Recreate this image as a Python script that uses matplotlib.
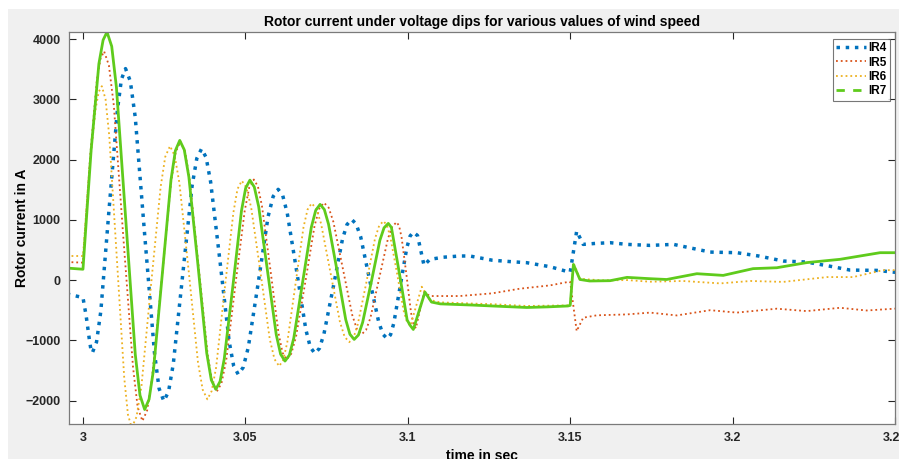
import matplotlib
matplotlib.use("Agg")
import matplotlib.pyplot as plt
from matplotlib.lines import Line2D
from matplotlib.patches import Rectangle

# Rotor current samples as (time in s, current in A) for each wind speed case
ir4 = [(2.995, -230), (3.0000, -290), (3.0010, -600), (3.0020, -1000), (3.0025, -1170), (3.0029, -1206),
       (3.00418, -1027), (3.0055, -515), (3.0080, 1153), (3.0106, 2821), (3.01183, 3333), (3.0131, 3512),
       (3.01458, 3302), (3.0161, 2703), (3.0190, 751), (3.0220, -1201), (3.02343, -1800), (3.0249, -2010),
       (3.02635, -1851), (3.0278, -1396), (3.0307, 85), (3.0336, 1566), (3.03505, 2021), (3.0365, 2180),
       (3.03791, 2038), (3.0393, 1631), (3.0422, 307), (3.0450, -1017), (3.04639, -1424), (3.0478, -1566),
       (3.04934, -1449), (3.0509, -1117), (3.0540, -30), (3.0570, 1057), (3.05856, 1390), (3.0601, 1507),
       (3.06151, 1403), (3.0629, 1109), (3.0658, 145), (3.0686, -819), (3.06999, -1114), (3.0714, -1218),
       (3.07281, -1133), (3.0742, -892), (3.0771, -105), (3.0799, 682), (3.08129, 923), (3.0827, 1008),
       (3.08408, 933), (3.0855, 718), (3.0882, 17), (3.0910, -684), (3.09232, -899), (3.0937, -974),
       (3.0947, -907), (3.0957, -715), (3.0977, -89), (3.0997, 537), (3.1007, 730), (3.1017, 797),
       (3.1030, 740), (3.1050, 244), (3.1068, 344), (3.1110, 380), (3.1160, 400), (3.1191, 400),
       (3.1260, 330), (3.1320, 305), (3.1366, 289), (3.1438, 222), (3.1497, 133), (3.1500, 130),
       (3.1520, 814), (3.1540, 593), (3.1580, 610), (3.1623, 621), (3.1675, 593), (3.1746, 576),
       (3.1818, 593), (3.1931, 465), (3.2013, 455), (3.2080, 400), (3.2157, 316), (3.2228, 299),
       (3.2300, 230), (3.2362, 166), (3.2444, 161), (3.2512, 123)]

ir5 = [(2.995, 300), (3.0000, 290), (3.0022, 2045), (3.0043, 3330), (3.00542, 3681), (3.0065, 3800),
       (3.00798, 3567), (3.0095, 2900), (3.0124, 730), (3.0154, -1440), (3.01683, -2107), (3.0183, -2340),
       (3.01976, -2164), (3.0212, -1660), (3.0242, -20), (3.0271, 1620), (3.02854, 2124), (3.0300, 2300),
       (3.0314, 2142), (3.0328, 1692), (3.0356, 225), (3.0384, -1242), (3.0398, -1692), (3.0412, -1850),
       (3.04263, -1716), (3.0441, -1334), (3.0469, -90), (3.0498, 1154), (3.05118, 1536), (3.0526, 1670),
       (3.05386, 1556), (3.0551, 1232), (3.0577, 175), (3.0602, -882), (3.06144, -1206), (3.0627, -1320),
       (3.06414, -1221), (3.0656, -939), (3.0685, -18), (3.0713, 903), (3.07276, 1186), (3.0742, 1285),
       (3.07565, 1202), (3.0771, 966), (3.0800, 193), (3.0829, -580), (3.08435, -817), (3.0858, -900),
       (3.08715, -829), (3.0885, -627), (3.0912, 32), (3.0939, 691), (3.09525, 892), (3.0966, 963),
       (3.09734, 896), (3.0981, 706), (3.0996, 82), (3.1010, -542), (3.10176, -733), (3.1025, -800),
       (3.1050, -200), (3.1068, -265), (3.1160, -265), (3.1260, -220), (3.1345, -143), (3.1438, -88),
       (3.1497, -27), (3.1500, -30), (3.1520, -847), (3.1540, -625), (3.1582, -585), (3.1675, -570),
       (3.1746, -540), (3.1828, -587), (3.1931, -500), (3.2013, -540), (3.2136, -475), (3.2228, -515),
       (3.2331, -460), (3.2413, -505), (3.2512, -470)]

ir6 = [(2.995, 400), (3.0000, 400), (3.0019, 1810), (3.0039, 2842), (3.00483, 3124), (3.0058, 3220),
       (3.00695, 3005), (3.0081, 2389), (3.0104, 385), (3.0127, -1619), (3.01385, -2235), (3.0150, -2450),
       (3.01648, -2272), (3.0180, -1765), (3.0209, -112), (3.0239, 1541), (3.02533, 2048), (3.0268, 2226),
       (3.02824, 2066), (3.0297, 1610), (3.0326, 123), (3.0354, -1364), (3.03686, -1820), (3.0383, -1980),
       (3.03963, -1842), (3.0410, -1448), (3.0436, -165), (3.0463, 1118), (3.04757, 1512), (3.0489, 1650),
       (3.05034, 1533), (3.0518, 1199), (3.0547, 110), (3.0575, -979), (3.05896, -1313), (3.0604, -1430),
       (3.06165, -1327), (3.0629, -1035), (3.0654, -78), (3.0679, 879), (3.06915, 1172), (3.0704, 1275),
       (3.07185, 1187), (3.0733, 938), (3.0762, 123), (3.0791, -692), (3.08055, -942), (3.0820, -1030),
       (3.08331, -954), (3.0846, -736), (3.0873, -25), (3.0899, 686), (3.09119, 904), (3.0925, 980),
       (3.09354, 914), (3.0946, 725), (3.0967, 110), (3.0987, -505), (3.09976, -694), (3.1008, -760),
       (3.1043, -110), (3.1068, -330), (3.1100, -370), (3.1200, -390), (3.1260, -400), (3.1366, -430),
       (3.1493, -420), (3.1500, -415), (3.1510, 290), (3.1530, 20), (3.1600, -5), (3.1675, 0),
       (3.1746, -27), (3.1848, -15), (3.1962, -55), (3.2055, -15), (3.2156, -30), (3.2291, 50),
       (3.2371, 50), (3.2463, 165), (3.2512, 165)]

ir7 = [(2.995, 200), (3.0000, 180), (3.0025, 2150), (3.0049, 3592), (3.0062, 3986), (3.0074, 4120),
       (3.00885, 3882), (3.0103, 3202), (3.0132, 985), (3.0161, -1232), (3.01755, -1912), (3.0190, -2150),
       (3.02035, -1980), (3.0217, -1495), (3.0244, 85), (3.0271, 1665), (3.02845, 2150), (3.0298, 2320),
       (3.03119, 2163), (3.0326, 1714), (3.0354, 252), (3.0381, -1210), (3.03951, -1658), (3.0409, -1815),
       (3.04221, -1683), (3.0435, -1307), (3.0462, -78), (3.0488, 1151), (3.05009, 1528), (3.0514, 1660),
       (3.05275, 1546), (3.0541, 1220), (3.0568, 158), (3.0595, -904), (3.06085, -1231), (3.0622, -1345),
       (3.06355, -1246), (3.0649, -964), (3.0676, -44), (3.0703, 876), (3.07165, 1158), (3.0730, 1257),
       (3.07431, 1172), (3.0756, 929), (3.0783, 136), (3.0809, -657), (3.08219, -900), (3.0835, -985),
       (3.08481, -912), (3.0861, -703), (3.0888, -22), (3.0914, 659), (3.09269, 868), (3.0940, 941),
       (3.09496, 874), (3.0959, 582), (3.0979, -40), (3.0998, -662), (3.10074, -753), (3.1017, -820),
       (3.1053, -200), (3.1073, -365), (3.1100, -395), (3.1200, -415), (3.1260, -430), (3.1366, -455),
       (3.1430, -445), (3.1493, -430), (3.1500, -420), (3.1510, 260), (3.1530, 10), (3.1560, -15),
       (3.1623, -10), (3.1675, 45), (3.1746, 23), (3.1797, 10), (3.1890, 106), (3.1971, 78),
       (3.2063, 190), (3.2136, 205), (3.2228, 290), (3.2331, 345), (3.2454, 455), (3.2512, 455)]

labels = ["IR4", "IR5", "IR6", "IR7"]
colors = ["#0072BD", "#D95319", "#EDB120", "#5FCB1C"]

plt.rcParams["font.family"] = ["Liberation Sans", "DejaVu Sans"]
plt.rcParams["font.weight"] = "bold"

fig = plt.figure(figsize=(8.99, 4.59), dpi=100, facecolor="white")
fig.patches.append(Rectangle((8 / 899, 0), 1, 1 - 9 / 459, transform=fig.transFigure,
                             facecolor="#f0f0f0", edgecolor="none", zorder=-10))
ax = fig.add_axes([69 / 899, 35 / 459, 826 / 899, 392 / 459])
ax.set_facecolor("white")

styles = [dict(ls=":", lw=2.5), dict(ls=":", lw=1.3), dict(ls=":", lw=1.3), dict(ls="-", lw=2.0)]
for series, color, st in zip([ir4, ir5, ir6, ir7], colors, styles):
    t, v = zip(*series)
    ax.plot(t, v, color=color, **st)

ax.set_xlim(2.9957, 3.25)
ax.set_ylim(-2390, 4120)
ax.set_xticks([3, 3.05, 3.1, 3.15, 3.2, 3.25])
ax.set_xticklabels(["3", "3.05", "3.1", "3.15", "3.2", "3.25"])
ax.set_yticks([-2000, -1000, 0, 1000, 2000, 3000, 4000])
ax.tick_params(direction="in", length=5, width=0.8, top=True, right=True,
               labelsize=9, colors="#262626", pad=6)
for lab in ax.get_xticklabels() + ax.get_yticklabels():
    lab.set_fontweight("bold")
for sp in ax.spines.values():
    sp.set_color("#7a7a7a")
    sp.set_linewidth(0.9)

ax.set_title("Rotor current under voltage dips for various values of wind speed",
             fontsize=10, fontweight="bold", pad=4)
ax.set_xlabel("time in sec", fontsize=10, fontweight="bold", labelpad=3)
ax.set_ylabel("Rotor current in A", fontsize=10, fontweight="bold")
ax.yaxis.set_label_coords(-0.049, 0.5)

# legend shows IR7 dashed even though the trace is solid
handles = [
    Line2D([], [], ls=":", lw=2.5, color=colors[0]),
    Line2D([], [], ls=":", lw=1.3, color=colors[1]),
    Line2D([], [], ls=":", lw=1.3, color=colors[2]),
    Line2D([], [], ls=(0, (3, 3)), lw=2.0, color=colors[3]),
]
leg = ax.legend(handles, labels, loc="upper right", fontsize=8.5, frameon=True,
                fancybox=False, borderpad=0.3, handlelength=2.5, handletextpad=0.2,
                labelspacing=0.2, borderaxespad=0.4, bbox_to_anchor=(1.0, 0.995))
leg.get_frame().set_edgecolor("#555555")
leg.get_frame().set_linewidth(0.8)
for txt in leg.get_texts():
    txt.set_fontweight("bold")

plt.savefig("out.png", dpi=100, facecolor=fig.get_facecolor())
